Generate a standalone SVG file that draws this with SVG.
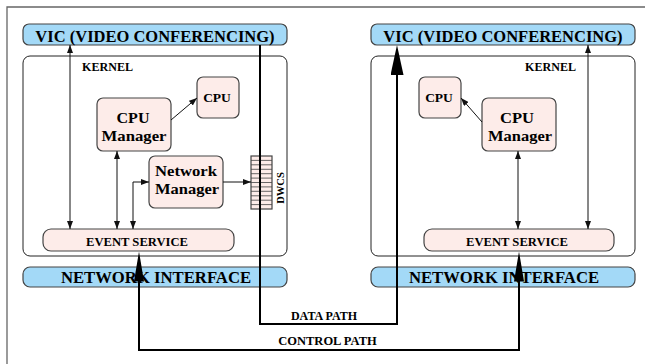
<svg xmlns="http://www.w3.org/2000/svg" width="645" height="364" viewBox="0 0 645 364">
<style>
  text { font-family: "Liberation Serif", "Times New Roman", serif; font-weight: bold; fill: #000; }
  .blue { fill: #a3d9f7; stroke: #444; stroke-width: 1.2; }
  .pink { fill: #fdece9; stroke: #444; stroke-width: 1.2; }
  .kern { fill: #fff; stroke: #222; stroke-width: 1; }
  .thin { fill: none; stroke: #111; stroke-width: 1; }
  .thick { fill: none; stroke: #000; stroke-width: 2; }
  .mid { text-anchor: middle; }
</style>
<defs>
  <marker id="ah" markerUnits="userSpaceOnUse" markerWidth="8" markerHeight="6" refX="8" refY="3" orient="auto-start-reverse">
    <path d="M0,0 L8,3 L0,6 z" fill="#111"/>
  </marker>
  <marker id="bigD" markerUnits="userSpaceOnUse" markerWidth="30" markerHeight="13" refX="15" refY="6.5" orient="auto-start-reverse">
    <path d="M0,0 L30,6.5 L0,13 z" fill="#000"/>
  </marker>
  <marker id="bigC" markerUnits="userSpaceOnUse" markerWidth="30" markerHeight="10" refX="15" refY="5" orient="auto-start-reverse">
    <path d="M0,0 L30,5 L0,10 z" fill="#000"/>
  </marker>
</defs>
<rect width="645" height="364" fill="#fff"/>
<path d="M7,364 L7,7 L645,7" fill="none" stroke="#666" stroke-width="1.3"/>

<!-- Left host -->
<g id="vic-left">
  <rect class="blue" x="23" y="24" width="264" height="21" rx="6"/>
  <text class="mid" x="155" y="41.5" font-size="16.5">VIC (VIDEO CONFERENCING)</text>
</g>
<g id="kernel-left">
  <rect class="kern" x="23" y="56" width="264" height="200" rx="7"/>
  <text x="82" y="71" font-size="11.5" textLength="51" lengthAdjust="spacingAndGlyphs">KERNEL</text>
</g>
<g id="cpu-left">
  <rect class="pink" x="197" y="77" width="42" height="41" rx="6"/>
  <text class="mid" x="217" y="102" font-size="13.5">CPU</text>
</g>
<g id="cpumgr-left">
  <rect class="pink" x="97" y="98" width="74" height="53" rx="6"/>
  <text class="mid" x="133" y="122.5" font-size="15" textLength="33" lengthAdjust="spacingAndGlyphs">CPU</text>
  <text class="mid" x="134" y="140.5" font-size="15" textLength="65" lengthAdjust="spacingAndGlyphs">Manager</text>
</g>
<g id="netmgr-left">
  <rect class="pink" x="149" y="156" width="74" height="52" rx="6"/>
  <text class="mid" x="186" y="176" font-size="15" textLength="62" lengthAdjust="spacingAndGlyphs">Network</text>
  <text class="mid" x="187" y="193.5" font-size="15" textLength="64" lengthAdjust="spacingAndGlyphs">Manager</text>
</g>
<g id="dwcs">
  <rect class="pink" x="251" y="156" width="21" height="53" stroke-width="1"/>
  <path d="M251,160.4 H272 M251,164.8 H272 M251,169.3 H272 M251,173.7 H272 M251,178.1 H272 M251,182.5 H272 M251,186.9 H272 M251,191.3 H272 M251,195.8 H272 M251,200.2 H272 M251,204.6 H272" stroke="#444" stroke-width="0.8"/>
  <text class="mid" transform="translate(284,188) rotate(-90)" font-size="10.5">DWCS</text>
</g>
<g id="event-left">
  <rect class="pink" x="43" y="229" width="191" height="22" rx="8"/>
  <text class="mid" x="137" y="245.5" font-size="12" textLength="102" lengthAdjust="spacingAndGlyphs">EVENT SERVICE</text>
</g>
<g id="netif-left">
  <rect class="blue" x="23" y="267" width="264" height="20" rx="7"/>
  <text class="mid" x="156" y="283" font-size="16.7">NETWORK INTERFACE</text>
</g>

<!-- Right host -->
<g id="vic-right">
  <rect class="blue" x="371" y="24" width="264" height="21" rx="6"/>
  <text class="mid" x="503" y="41.5" font-size="16.5">VIC (VIDEO CONFERENCING)</text>
</g>
<g id="kernel-right">
  <rect class="kern" x="371" y="56" width="264" height="200" rx="7"/>
  <text x="525" y="71" font-size="11.5" textLength="51" lengthAdjust="spacingAndGlyphs">KERNEL</text>
</g>
<g id="cpu-right">
  <rect class="pink" x="419" y="77" width="42" height="41" rx="6"/>
  <text class="mid" x="439" y="102" font-size="13.5">CPU</text>
</g>
<g id="cpumgr-right">
  <rect class="pink" x="482" y="98" width="74" height="53" rx="6"/>
  <text class="mid" x="517" y="122.5" font-size="15" textLength="34" lengthAdjust="spacingAndGlyphs">CPU</text>
  <text class="mid" x="520" y="140.5" font-size="15" textLength="64" lengthAdjust="spacingAndGlyphs">Manager</text>
</g>
<g id="event-right">
  <rect class="pink" x="424" y="229" width="190" height="22" rx="8"/>
  <text class="mid" x="517" y="245.5" font-size="12" textLength="102" lengthAdjust="spacingAndGlyphs">EVENT SERVICE</text>
</g>
<g id="netif-right">
  <rect class="blue" x="371" y="267" width="264" height="20" rx="7"/>
  <text class="mid" x="504" y="283" font-size="16.7">NETWORK INTERFACE</text>
</g>

<!-- Connectors -->
<g id="connectors">
  <line class="thin" x1="70" y1="45" x2="70" y2="229" marker-start="url(#ah)" marker-end="url(#ah)"/>
  <line class="thin" x1="117" y1="151" x2="117" y2="229" marker-start="url(#ah)" marker-end="url(#ah)"/>
  <polyline class="thin" points="133,229 133,182 149,182" marker-start="url(#ah)" marker-end="url(#ah)"/>
  <line class="thin" x1="171" y1="120" x2="197" y2="98" marker-end="url(#ah)"/>
  <line class="thin" x1="223" y1="182" x2="251" y2="182" marker-end="url(#ah)"/>
  <line class="thin" x1="588" y1="45" x2="588" y2="229" marker-start="url(#ah)" marker-end="url(#ah)"/>
  <line class="thin" x1="518" y1="151" x2="518" y2="229" marker-start="url(#ah)" marker-end="url(#ah)"/>
  <line class="thin" x1="482" y1="122" x2="461" y2="98" marker-end="url(#ah)"/>
  <polyline class="thick" points="260,45 260,324 397,324 397,60" marker-end="url(#bigD)"/>
  <polyline class="thick" points="139,266.5 139,350 519,350 519,266.5" marker-start="url(#bigC)" marker-end="url(#bigC)"/>
  <text class="mid" x="324" y="320" font-size="12">DATA PATH</text>
  <text class="mid" x="327.5" y="345" font-size="12.5">CONTROL PATH</text>
</g>
</svg>
